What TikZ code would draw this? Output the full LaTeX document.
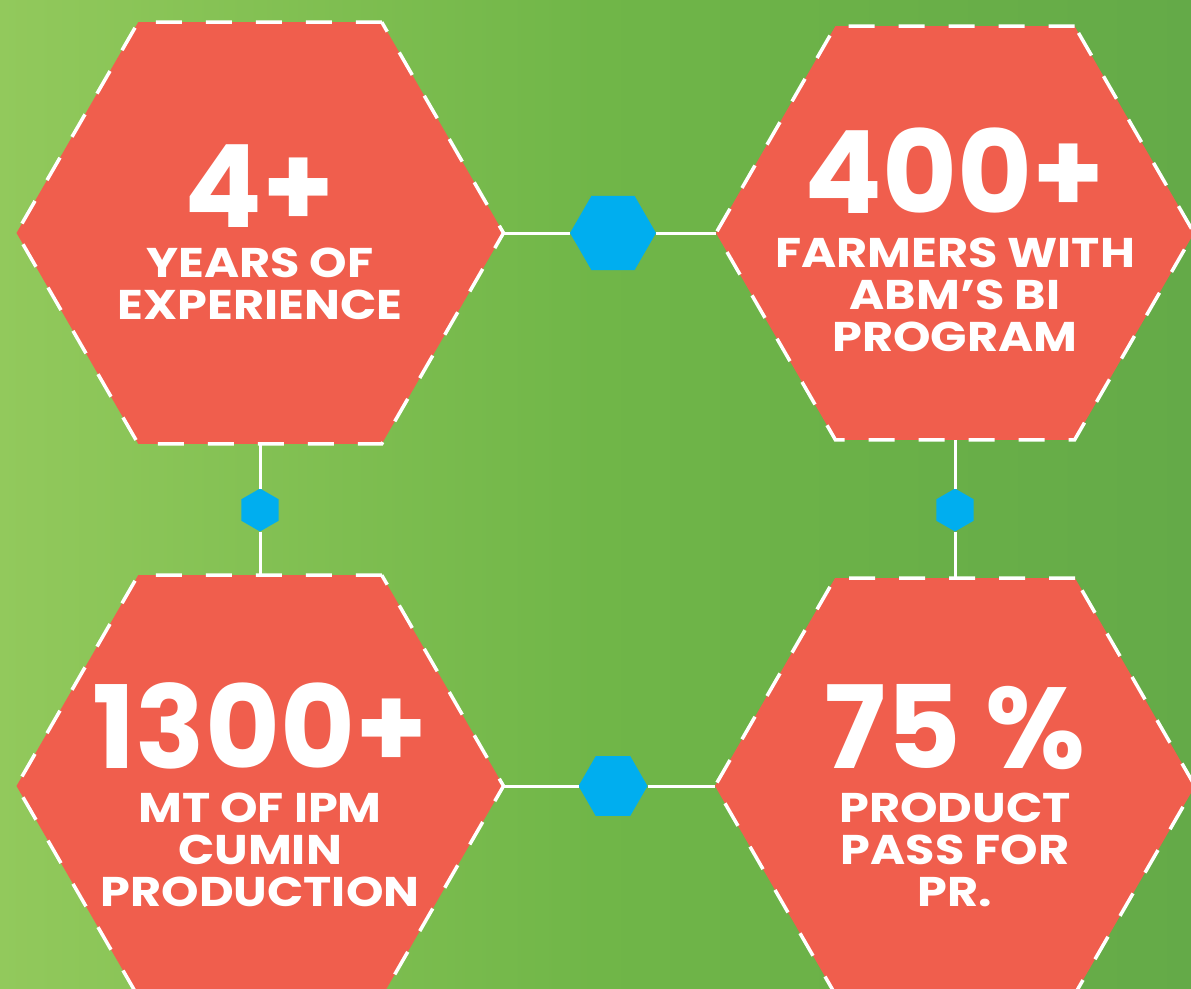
\documentclass[tikz,border=0pt]{standalone}
\usepackage{fontspec}
\setmainfont{Poppins}
\newfontfamily\capfont{Poppins}[FakeStretch=1.15]
\usetikzlibrary{shapes.geometric,positioning}

\definecolor{hexred}{RGB}{240,94,77}
\definecolor{dotblue}{RGB}{0,174,239}
\definecolor{bgleft}{RGB}{146,201,92}
\definecolor{bgmid}{RGB}{112,182,72}
\definecolor{bgright}{RGB}{100,170,72}

\tikzset{
	stat/.style={regular polygon, regular polygon sides=6, fill=hexred, draw=white,
		line width=3.5pt, dash pattern=on 26pt off 24pt, inner sep=0pt, outer sep=0pt},
	dot/.style={regular polygon, regular polygon sides=6, fill=dotblue, draw=none,
		inner sep=0pt, outer sep=0pt},
	vdot/.style={dot, regular polygon rotate=30},
	link/.style={draw=white, line width=3pt},
	bignum/.style={anchor=base, inner sep=0pt, text=white, font=\bfseries\fontsize{115}{115}\selectfont},
	caption/.style={anchor=north, inner sep=0pt, text=white, align=center,
		font=\capfont\bfseries\fontsize{41.5}{42}\selectfont},
}

\begin{document}
\begin{tikzpicture}[x=1pt, y=-1pt]
	% background
	\useasboundingbox (0,0) rectangle (1191,988);
	\clip (0,0) rectangle (1191,988);
	\shade[left color=bgleft, right color=bgright, middle color=bgmid] (0,0) rectangle (1191,988);

	% hexagons
	\node[stat, minimum size=487pt] (yrs) at (260,233) {};
	\node[stat, minimum size=478pt] (frm) at (955,233) {};
	\node[stat, minimum size=487pt] (cum) at (260,786) {};
	\node[stat, minimum size=480pt] (pas) at (955,786) {};

	% connectors with small hexagons
	\node[dot, minimum size=86pt] (d1) at (613,233) {};
	\node[dot, minimum size=69pt] (d2) at (613,786) {};
	\node[vdot, minimum size=43pt] (d3) at (260,510) {};
	\node[vdot, minimum size=43pt] (d4) at (955,510) {};

	\draw[link] (yrs.east) -- (d1);
	\draw[link] (d1) -- (frm.west);
	\draw[link] (cum.east) -- (d2);
	\draw[link] (d2) -- (pas.west);
	\draw[link] (yrs.south) -- (d3);
	\draw[link] (d3) -- (cum.north);
	\draw[link] (frm.south) -- (d4);
	\draw[link] (d4) -- (pas.north);

	% texts
	\node[bignum] (yrs-n) at ([yshift=6pt]yrs.center) {4+};
	\node[caption] (yrs-c) at ([yshift=-15pt]yrs.center) {YEARS OF\\EXPERIENCE};

	\node[bignum] (frm-n) at ([yshift=20pt]frm.center) {400+};
	\node[caption] (frm-c) at ([yshift=-5pt]frm.center) {FARMERS WITH\\ABM’S BI\\PROGRAM};

	\node[bignum] (cum-n) at ([yshift=18pt]cum.center) {1300+};
	\node[caption] (cum-c) at ([yshift=-7pt]cum.center) {MT OF IPM\\CUMIN\\PRODUCTION};

	\node[bignum] (pas-n) at ([yshift=18pt]pas.center) {75 \%};
	\node[caption] (pas-c) at ([yshift=-7pt]pas.center) {PRODUCT\\PASS FOR\\PR.};
\end{tikzpicture}
\end{document}
